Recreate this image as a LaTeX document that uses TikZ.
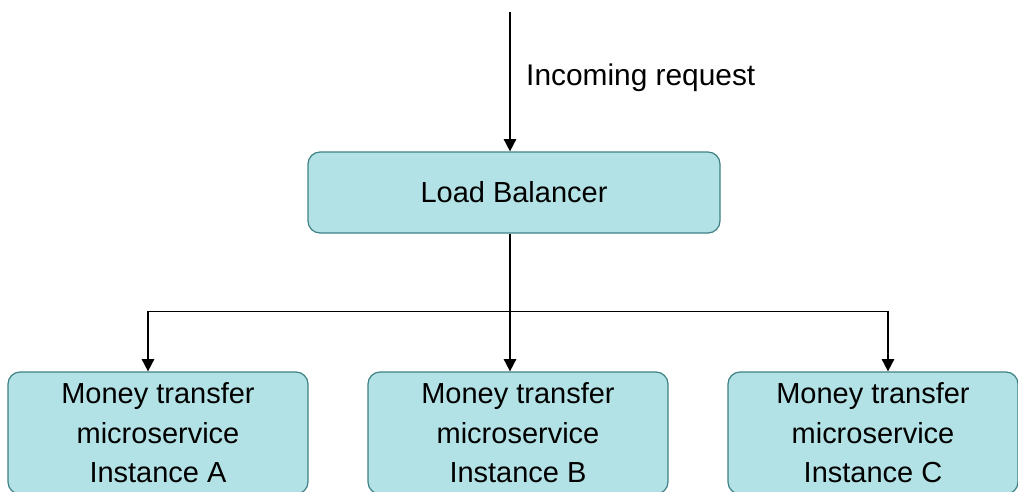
\documentclass[tikz,border=0pt]{standalone}
\usepackage{fontspec}
\setmainfont{Liberation Sans}
\usetikzlibrary{positioning, calc, arrows.meta}

\definecolor{boxfill}{HTML}{B2E2E5}
\definecolor{boxline}{HTML}{3F8285}

\tikzset{
  svcbox/.style={draw=boxline, fill=boxfill, line width=0.7pt, rounded corners=0.24cm,
    align=center, font=\fontsize{16.5}{22.5}\selectfont, inner sep=0pt},
  flow/.style={line width=1pt, -{Triangle[length=7pt, width=7pt]}},
  bus/.style={line width=1pt}
}

\begin{document}
\begin{tikzpicture}[x=0.02cm, y=-0.02cm]
    \useasboundingbox (0,0) rectangle (1018,491);

    % Load balancer and the three instances
    \node[svcbox, minimum width=412*0.02cm, minimum height=81*0.02cm] (lb) at (514,192.5) {Load Balancer};
    \node[svcbox, minimum width=300*0.02cm, minimum height=122*0.02cm] (a) at (158,433) {Money transfer\\microservice\\Instance A};
    \node[svcbox, minimum width=300*0.02cm, minimum height=122*0.02cm] (b) at (518,433) {Money transfer\\microservice\\Instance B};
    \node[svcbox, minimum width=290*0.02cm, minimum height=122*0.02cm] (c) at (873,433) {Money transfer\\microservice\\Instance C};

    % Incoming request
    \coordinate (src) at (510,12);
    \draw[flow] (src) -- (src |- lb.north);
    \node[anchor=west, font=\fontsize{17}{20}\selectfont] (req) at (520,78) {Incoming request};

    % Fan out to the instances
    \coordinate (ina) at ($(a.north)+(-10,0)$);
    \coordinate (inc) at ($(c.north)+(15,0)$);
    \coordinate (busa) at ($(ina)+(0,-60)$);
    \coordinate (busc) at ($(inc)+(0,-60)$);
    \draw[bus] (busa) -- (busc);
    \draw[flow] (busa) -- (ina);
    \draw[flow] (busc) -- (inc);
    \draw[flow] (src |- lb.south) -- (src |- b.north);
\end{tikzpicture}
\end{document}
